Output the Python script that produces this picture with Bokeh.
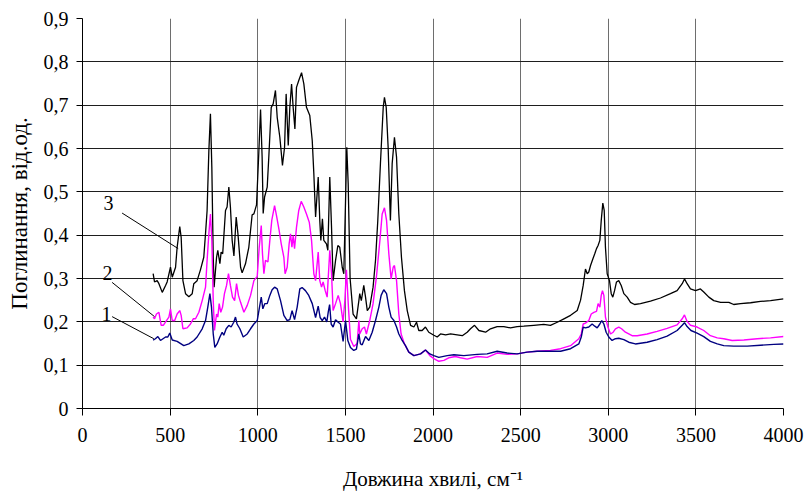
from bokeh.plotting import figure
from bokeh.models import Range1d, FixedTicker, CustomJSTickFormatter
from bokeh.core.properties import value
from bokeh.embed import file_html
from bokeh.resources import INLINE

# ---------------- data ----------------
wn3 = [403, 411, 426, 436, 455, 474, 483, 502, 512, 531, 540, 555, 563, 573, 588, 607, 626, 635, 654, 673,
       692, 702, 711, 721, 730, 738, 746, 751, 765, 772, 784, 791, 800, 816, 825, 835, 844, 854, 864, 877,
       887, 902, 911, 930, 949, 968, 978, 993, 1006, 1016, 1025, 1031, 1039, 1054, 1063, 1077, 1088, 1101,
       1111, 1126, 1141, 1153, 1162, 1174, 1183, 1193, 1202, 1212, 1221, 1234, 1250, 1263, 1278, 1297, 1311,
       1320, 1330, 1345, 1354, 1360, 1369, 1377, 1392, 1400, 1411, 1421, 1430, 1444, 1457, 1468, 1482, 1491,
       1501, 1508, 1516, 1527, 1544, 1563, 1577, 1582, 1591, 1605, 1615, 1625, 1639, 1658, 1672, 1685, 1700,
       1716, 1723, 1733, 1744, 1757, 1767, 1780, 1792, 1805, 1820, 1837, 1853, 1872, 1891, 1906, 1919, 1938,
       1957, 1976, 2005, 2024, 2043, 2072, 2100, 2138, 2167, 2195, 2214, 2237, 2262, 2300, 2328, 2366, 2404,
       2442, 2480, 2518, 2575, 2632, 2670, 2709, 2747, 2785, 2823, 2842, 2857, 2870, 2880, 2889, 2899, 2912,
       2923, 2933, 2942, 2952, 2960, 2969, 2977, 2984, 2994, 3007, 3017, 3026, 3036, 3047, 3060, 3074, 3089,
       3108, 3127, 3150, 3184, 3241, 3298, 3355, 3393, 3422, 3435, 3450, 3469, 3498, 3526, 3545, 3574, 3602,
       3641, 3688, 3716, 3755, 3812, 3869, 3926, 4000]
abs3 = [0.311, 0.292, 0.295, 0.288, 0.268, 0.284, 0.292, 0.326, 0.303, 0.326, 0.372, 0.420, 0.395, 0.295,
        0.265, 0.258, 0.265, 0.288, 0.295, 0.320, 0.349, 0.404, 0.457, 0.595, 0.680, 0.557, 0.349, 0.280,
        0.349, 0.365, 0.334, 0.361, 0.357, 0.457, 0.465, 0.511, 0.465, 0.388, 0.352, 0.442, 0.403, 0.326,
        0.313, 0.334, 0.372, 0.447, 0.449, 0.470, 0.590, 0.690, 0.580, 0.450, 0.488, 0.511, 0.580, 0.695,
        0.703, 0.734, 0.672, 0.626, 0.561, 0.603, 0.726, 0.607, 0.695, 0.749, 0.695, 0.645, 0.741, 0.757,
        0.775, 0.749, 0.695, 0.676, 0.618, 0.542, 0.442, 0.534, 0.434, 0.388, 0.438, 0.388, 0.380, 0.365,
        0.534, 0.418, 0.295, 0.342, 0.376, 0.372, 0.326, 0.311, 0.480, 0.603, 0.520, 0.300, 0.218, 0.207,
        0.249, 0.265, 0.249, 0.284, 0.257, 0.226, 0.234, 0.280, 0.342, 0.434, 0.565, 0.695, 0.718, 0.695,
        0.603, 0.434, 0.565, 0.626, 0.580, 0.449, 0.349, 0.272, 0.226, 0.192, 0.188, 0.199, 0.180, 0.180,
        0.188, 0.176, 0.169, 0.165, 0.172, 0.170, 0.172, 0.170, 0.168, 0.176, 0.184, 0.192, 0.180, 0.176,
        0.184, 0.189, 0.189, 0.186, 0.189, 0.190, 0.192, 0.194, 0.192, 0.199, 0.207, 0.215, 0.226, 0.250,
        0.284, 0.322, 0.311, 0.315, 0.330, 0.345, 0.357, 0.369, 0.376, 0.388, 0.434, 0.474, 0.457, 0.372,
        0.311, 0.295, 0.265, 0.257, 0.272, 0.292, 0.295, 0.284, 0.265, 0.257, 0.245, 0.240, 0.242, 0.248,
        0.255, 0.265, 0.272, 0.288, 0.299, 0.288, 0.276, 0.272, 0.276, 0.269, 0.257, 0.249, 0.245, 0.245,
        0.240, 0.242, 0.244, 0.247, 0.249, 0.253]

wn2 = [403, 411, 422, 436, 449, 461, 479, 493, 502, 512, 526, 540, 555, 563, 573, 597, 616, 632, 645, 664,
       683, 702, 711, 721, 730, 738, 746, 753, 765, 772, 780, 789, 799, 810, 822, 833, 844, 856, 868, 879,
       890, 902, 921, 940, 959, 978, 997, 1008, 1020, 1027, 1035, 1044, 1058, 1069, 1080, 1096, 1107, 1122,
       1134, 1149, 1156, 1168, 1179, 1187, 1195, 1202, 1210, 1221, 1234, 1248, 1263, 1278, 1294, 1307, 1320,
       1330, 1345, 1354, 1364, 1373, 1385, 1396, 1411, 1421, 1430, 1444, 1459, 1472, 1487, 1497, 1506, 1518,
       1529, 1548, 1567, 1577, 1582, 1596, 1609, 1620, 1639, 1658, 1677, 1697, 1710, 1723, 1735, 1748, 1761,
       1773, 1780, 1792, 1805, 1818, 1837, 1862, 1891, 1929, 1957, 1982, 2005, 2033, 2062, 2090, 2128, 2157,
       2195, 2252, 2309, 2366, 2423, 2480, 2537, 2594, 2670, 2728, 2785, 2832, 2846, 2857, 2870, 2889, 2903,
       2918, 2933, 2942, 2952, 2960, 2967, 2975, 2984, 2998, 3013, 3028, 3041, 3060, 3076, 3098, 3117, 3136,
       3165, 3222, 3279, 3336, 3393, 3422, 3435, 3450, 3469, 3507, 3545, 3583, 3622, 3659, 3707, 3774, 3850,
       3926, 4000]
abs2 = [0.211, 0.207, 0.218, 0.222, 0.192, 0.192, 0.203, 0.211, 0.230, 0.203, 0.203, 0.218, 0.226, 0.215,
        0.184, 0.186, 0.195, 0.207, 0.207, 0.222, 0.249, 0.280, 0.342, 0.403, 0.449, 0.388, 0.249, 0.180,
        0.218, 0.211, 0.242, 0.222, 0.234, 0.265, 0.284, 0.311, 0.284, 0.257, 0.249, 0.288, 0.261, 0.245,
        0.222, 0.238, 0.261, 0.295, 0.305, 0.370, 0.422, 0.357, 0.311, 0.342, 0.338, 0.388, 0.434, 0.468,
        0.445, 0.411, 0.380, 0.349, 0.311, 0.326, 0.380, 0.403, 0.372, 0.399, 0.369, 0.418, 0.457, 0.478,
        0.465, 0.449, 0.430, 0.388, 0.311, 0.295, 0.361, 0.295, 0.280, 0.292, 0.272, 0.257, 0.365, 0.311,
        0.226, 0.242, 0.261, 0.242, 0.200, 0.249, 0.320, 0.230, 0.160, 0.143, 0.150, 0.203, 0.172, 0.184,
        0.188, 0.172, 0.203, 0.242, 0.303, 0.388, 0.449, 0.463, 0.434, 0.357, 0.299, 0.326, 0.330, 0.295,
        0.218, 0.172, 0.149, 0.130, 0.122, 0.126, 0.135, 0.122, 0.115, 0.109, 0.111, 0.117, 0.120, 0.117,
        0.114, 0.120, 0.118, 0.128, 0.125, 0.126, 0.130, 0.132, 0.134, 0.138, 0.145, 0.161, 0.172, 0.195,
        0.197, 0.203, 0.218, 0.222, 0.224, 0.242, 0.234, 0.261, 0.272, 0.261, 0.211, 0.188, 0.172, 0.176,
        0.184, 0.188, 0.184, 0.176, 0.172, 0.168, 0.168, 0.172, 0.178, 0.185, 0.193, 0.207, 0.216, 0.201,
        0.192, 0.188, 0.180, 0.168, 0.163, 0.161, 0.157, 0.158, 0.161, 0.163, 0.166]

wn1 = [403, 416, 430, 445, 474, 487, 498, 512, 540, 578, 607, 635, 654, 683, 702, 715, 727, 736, 746, 755,
       768, 784, 797, 806, 820, 835, 848, 863, 873, 882, 898, 917, 940, 959, 978, 997, 1010, 1020, 1029, 1040,
       1054, 1069, 1082, 1096, 1111, 1130, 1149, 1168, 1183, 1196, 1210, 1225, 1240, 1253, 1272, 1291, 1311,
       1330, 1345, 1356, 1368, 1381, 1394, 1402, 1410, 1419, 1430, 1444, 1459, 1472, 1487, 1501, 1514, 1529,
       1548, 1563, 1577, 1586, 1596, 1615, 1634, 1653, 1672, 1691, 1704, 1719, 1735, 1748, 1761, 1777, 1792,
       1805, 1824, 1843, 1862, 1891, 1929, 1957, 1982, 2005, 2033, 2081, 2119, 2176, 2252, 2309, 2366, 2423,
       2480, 2537, 2594, 2670, 2728, 2785, 2832, 2846, 2857, 2870, 2889, 2908, 2923, 2937, 2952, 2963, 2975,
       2988, 3003, 3022, 3041, 3060, 3089, 3117, 3155, 3222, 3279, 3336, 3393, 3422, 3435, 3450, 3472, 3507,
       3545, 3583, 3622, 3659, 3716, 3793, 3869, 3945, 4000]
abs1 = [0.158, 0.161, 0.166, 0.157, 0.165, 0.165, 0.174, 0.158, 0.155, 0.145, 0.149, 0.157, 0.165, 0.184,
        0.203, 0.234, 0.265, 0.234, 0.172, 0.141, 0.149, 0.165, 0.176, 0.169, 0.184, 0.192, 0.188, 0.199,
        0.211, 0.195, 0.184, 0.165, 0.172, 0.184, 0.195, 0.203, 0.234, 0.257, 0.230, 0.242, 0.242, 0.261,
        0.274, 0.280, 0.276, 0.249, 0.215, 0.203, 0.205, 0.226, 0.205, 0.234, 0.276, 0.279, 0.272, 0.261,
        0.242, 0.210, 0.236, 0.210, 0.203, 0.211, 0.200, 0.222, 0.240, 0.195, 0.188, 0.205, 0.199, 0.195,
        0.155, 0.203, 0.157, 0.141, 0.134, 0.137, 0.172, 0.149, 0.147, 0.166, 0.157, 0.176, 0.203, 0.234,
        0.261, 0.274, 0.265, 0.234, 0.211, 0.203, 0.188, 0.172, 0.157, 0.145, 0.130, 0.122, 0.126, 0.135,
        0.126, 0.122, 0.118, 0.122, 0.124, 0.122, 0.125, 0.126, 0.132, 0.128, 0.126, 0.130, 0.132, 0.132,
        0.132, 0.138, 0.149, 0.165, 0.188, 0.186, 0.188, 0.195, 0.190, 0.186, 0.195, 0.203, 0.195, 0.176,
        0.165, 0.157, 0.161, 0.162, 0.159, 0.153, 0.149, 0.153, 0.159, 0.167, 0.180, 0.192, 0.198, 0.189,
        0.180, 0.174, 0.166, 0.155, 0.149, 0.145, 0.144, 0.144, 0.146, 0.148, 0.149]

x_ticks = [0, 500, 1000, 1500, 2000, 2500, 3000, 3500, 4000]
y_ticks = [0, 0.1, 0.2, 0.3, 0.4, 0.5, 0.6, 0.7, 0.8, 0.9]

curve_names = ["1", "2", "3"]
curve_label_x = [137, 143, 148]
curve_label_y = [0.218, 0.312, 0.474]
leader_x0 = [169, 169, 226]
leader_y0 = [0.212, 0.291, 0.451]
leader_x1 = [407, 411, 546]
leader_y1 = [0.161, 0.212, 0.369]

x_title = "Довжина хвилі, см\u207b\u00b9"
y_title = "Поглинання, від.од."

FONT = "Liberation Serif"

# ---------------- figure ----------------
p = figure(width=806, height=493, x_range=Range1d(0, 4000), y_range=Range1d(0, 0.9),
           output_backend="svg", toolbar_location=None,
           min_border_left=82, min_border_right=23, min_border_top=18, min_border_bottom=85)
p.background_fill_color = "white"
p.border_fill_color = "white"
p.outline_line_color = None

p.xaxis.ticker = FixedTicker(ticks=x_ticks)
p.yaxis.ticker = FixedTicker(ticks=y_ticks)
p.yaxis.formatter = CustomJSTickFormatter(code="""
    if (Math.abs(tick) < 1e-9) { return "0"; }
    return tick.toFixed(1).replace(".", ",");
""")

for ax in (p.xaxis[0], p.yaxis[0]):
    ax.axis_line_color = "black"
    ax.axis_line_width = 1
    ax.major_tick_line_color = "black"
    ax.major_tick_in = 0
    ax.minor_tick_line_color = None
    ax.major_label_text_font = FONT
    ax.major_label_text_font_size = "20px"
    ax.major_label_text_color = "black"
    ax.axis_label_text_font = FONT
    ax.axis_label_text_font_style = "normal"
    ax.axis_label_text_color = "black"
p.xaxis.major_tick_out = 7
p.yaxis.major_tick_out = 6
p.xaxis.major_label_standoff = 12
p.yaxis.major_label_standoff = 8

p.yaxis.axis_label = y_title
p.yaxis.axis_label_text_font_size = "23px"
p.yaxis.axis_label_standoff = 9

p.xaxis.axis_label = x_title
p.xaxis.axis_label_text_font_size = "21px"
p.xaxis.axis_label_standoff = 22

p.xgrid.grid_line_color = "#6e6e6e"
p.xgrid.grid_line_width = 1
p.ygrid.grid_line_color = "#1e1e1e"
p.ygrid.grid_line_width = 1

# curves
p.line(wn3, abs3, line_color="black", line_width=1.3)
p.line(wn2, abs2, line_color="#ff00ff", line_width=1.4)
p.line(wn1, abs1, line_color="#000080", line_width=1.4)

# leader lines and curve numbers
p.segment(x0=leader_x0, y0=leader_y0, x1=leader_x1, y1=leader_y1, line_color="black", line_width=1)
p.text(x=curve_label_x, y=curve_label_y, text=curve_names, text_align="center",
       text_baseline="middle", text_font_size="20px", text_color="black",
       text_font=value(FONT))

open("out.html", "w").write(file_html(p, INLINE))
